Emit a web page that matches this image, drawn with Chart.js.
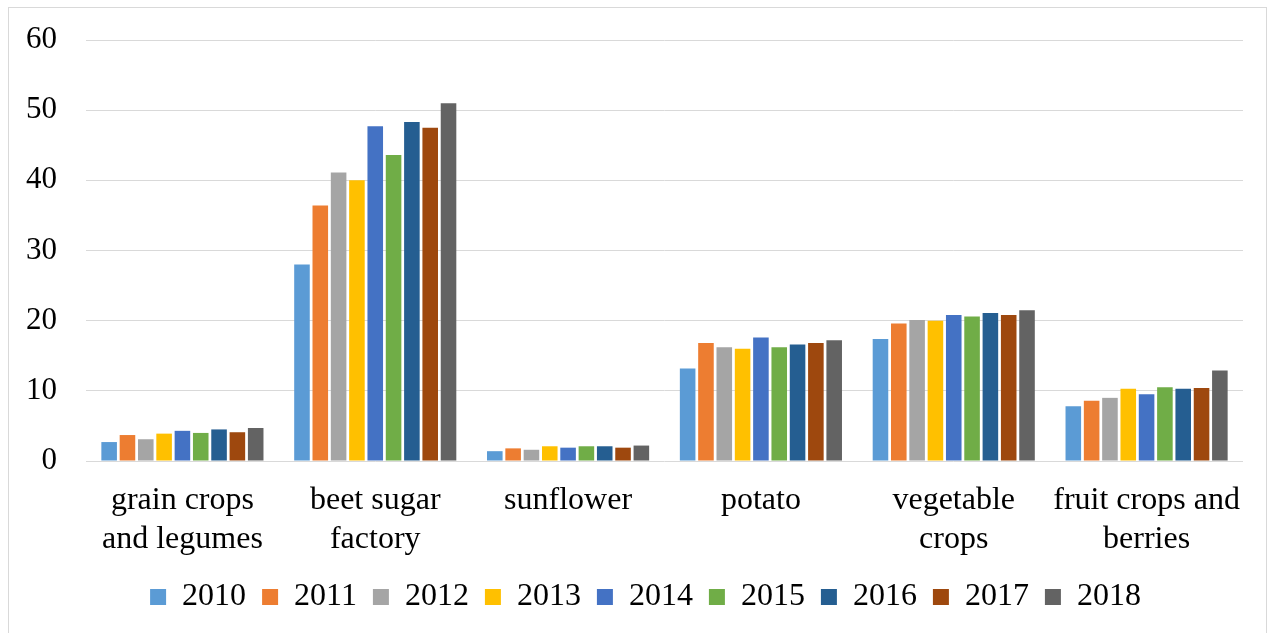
<!DOCTYPE html>
<html>
<head>
<meta charset="utf-8">
<script src="https://cdn.jsdelivr.net/npm/chart.js@4/dist/chart.umd.min.js"></script>
<style>
  html, body { margin: 0; padding: 0; background: #fff; }
  #wrap { position: relative; width: 1271px; height: 633px; }
  #frame {
    position: absolute; left: 8px; top: 7px; width: 1259px; height: 632px;
    border: 1px solid #d9d9d9; box-sizing: border-box;
  }
  canvas { position: absolute; left: 0; top: 0; }
</style>
</head>
<body>
<div id="wrap">
  <div id="frame"></div>
  <canvas id="chart" width="1271" height="633"></canvas>
</div>
<script>
  'use strict';

  // ===========================================================================
  // DATA
  // ===========================================================================

  const categories = [
    ['grain crops', 'and legumes'],
    ['beet sugar', 'factory'],
    'sunflower',
    'potato',
    ['vegetable', 'crops'],
    ['fruit crops and', 'berries'],
  ];

  const years = ['2010', '2011', '2012', '2013', '2014', '2015', '2016', '2017', '2018'];

  const colors = ['#5b9bd5', '#ed7d31', '#a5a5a5', '#ffc000', '#4472c4', '#70ad47', '#255e91', '#9e480e', '#636363'];

  // One array per year, values by category.
  const v2010 = [2.7, 28.0, 1.4, 13.2, 17.4, 7.8];
  const v2011 = [3.7, 36.4, 1.8, 16.8, 19.6, 8.6];
  const v2012 = [3.1, 41.1, 1.6, 16.2, 20.1, 9.0];
  const v2013 = [3.9, 40.0, 2.1, 16.0, 20.0, 10.3];
  const v2014 = [4.3, 47.7, 1.9, 17.6, 20.8, 9.5];
  const v2015 = [4.0, 43.6, 2.1, 16.2, 20.6, 10.5];
  const v2016 = [4.5, 48.3, 2.1, 16.6, 21.1, 10.3];
  const v2017 = [4.1, 47.5, 1.9, 16.8, 20.8, 10.4];
  const v2018 = [4.7, 51.0, 2.2, 17.2, 21.5, 12.9];

  const series = [v2010, v2011, v2012, v2013, v2014, v2015, v2016, v2017, v2018];

  const yTicks = [0, 10, 20, 30, 40, 50, 60];

  // ===========================================================================
  // CHART
  // ===========================================================================

  const FONT = "'Liberation Serif', 'Times New Roman', serif";

  // Legend in the reference sits a bit right of the canvas centre.
  const legendShift = {
    id: 'legendShift',
    afterLayout(chart) {
      if (!chart.legend) return;
      chart.legend.left += 24;
      chart.legend.right += 24;
    },
  };

  new Chart(document.getElementById('chart'), {
    type: 'bar',
    data: {
      labels: categories,
      datasets: years.map((y, i) => ({
        label: y,
        data: series[i],
        backgroundColor: colors[i],
        borderWidth: 0,
        categoryPercentage: 0.855,
        barPercentage: 0.85,
      })),
    },
    plugins: [legendShift],
    options: {
      responsive: false,
      animation: false,
      devicePixelRatio: 1,
      layout: {
        padding: { top: 40, right: 28, left: 0, bottom: 10 },
      },
      plugins: {
        legend: {
          position: 'bottom',
          labels: {
            font: { family: FONT, size: 32 },
            color: '#000',
            boxWidth: 16,
            boxHeight: 16,
            padding: 16,
          },
        },
        tooltip: { enabled: false },
      },
      scales: {
        x: {
          grid: { display: false, drawTicks: false },
          border: { display: false },
          ticks: {
            font: { family: FONT, size: 32, lineHeight: 1.19 },
            color: '#000',
            maxRotation: 0,
            autoSkip: false,
            padding: 21,
          },
          afterFit(scale) { scale.height = 104; },
        },
        y: {
          min: 0,
          max: 60,
          afterBuildTicks(scale) { scale.ticks = yTicks.map(v => ({ value: v })); },
          grid: { color: '#d9d9d9', lineWidth: 1, drawTicks: false },
          border: { display: false },
          ticks: {
            // small lineHeight keeps the scale's top padding from pushing the plot down
            font: { family: FONT, size: 31, lineHeight: 0.6 },
            color: '#000',
            padding: 29,
          },
          afterFit(scale) { scale.width = 86; },
        },
      },
    },
  });
</script>
</body>
</html>
